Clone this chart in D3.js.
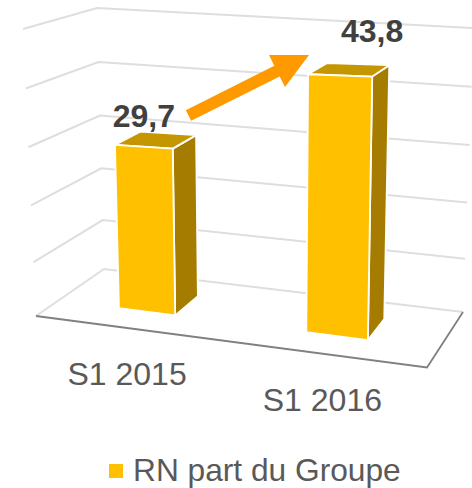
<!DOCTYPE html>
<html><head><meta charset="utf-8">
<script src="https://cdn.jsdelivr.net/npm/d3@7/dist/d3.min.js"></script>
<style>html,body{margin:0;padding:0;background:#fff}svg{display:block}</style>
</head><body><svg id="c" width="472" height="488"></svg>
<script>
const categories = ["S1 2015", "S1 2016"];
const values = [29.7, 43.8];
const valueLabels = ["29,7", "43,8"];
const ticks = [0, 10, 20, 30, 40, 50];
const seriesName = "RN part du Groupe";

const svg = d3.select("#c");
const font = "'Liberation Sans', Arial, sans-serif";

// Layout: projected box corners of the 3D chart
const floorFL = [36, 316], floorFR = [427, 367.5], floorBR = [463, 312], floorBL = [104, 269];
const topFL = [23, 29], topBL = [97, 8], topBR = [474, 28];
const labelNudge = [[0, -19.5], [32, -33]];

const mix = (a, b, t) => [a[0] + (b[0] - a[0]) * t, a[1] + (b[1] - a[1]) * t];
const floor = (u, w) => mix(mix(floorFL, floorFR, u), mix(floorBL, floorBR, u), w);

// Wall height (slight perspective growth)
const wallT = d3.scalePow().exponent(1.04).domain([0, 50]).range([0, 1]);

// Bar scales
const uScale = d3.scaleBand().domain(categories).range([-0.018, 0.984]).paddingInner(0.69).paddingOuter(0.345);
const warp = u => 0.016 + 0.91 * u + 0.09 * u * u; // perspective along the category axis
const depth = d3.scaleLinear().domain([0, 1]).range([0.33, 0.72]);
const lean = d3.scaleLinear().domain([119, 384]).range([-0.135, 0.114]);
const ppuX = d3.scaleLinear().domain([0, 1000]).range([0, 0.67]);
const ppuY = d3.scaleLinear().domain([0, 1000]).range([2.03, 13.03]);
const lift = (p, v) => [p[0] + v * lean(p[0]), p[1] - v * (ppuX(p[0]) + ppuY(p[1]))];

const line = d3.line();

// Gridlines on the walls
const gridG = svg.append("g");
ticks.forEach(t => {
  const k = wallT(t);
  gridG.append("path")
    .attr("d", line([mix(floorFL, topFL, k), mix(floorBL, topBL, k), mix(floorBR, topBR, k)]))
    .attr("fill", "none").attr("stroke", "#dedede").attr("stroke-width", 2);
});

// Floor front edges
svg.append("path").attr("d", line([floorFL, floorFR, floorBR]))
  .attr("fill", "none").attr("stroke", "#808080").attr("stroke-width", 1.8);

// Bars
const barG = svg.selectAll("g.bar").data(categories).join("g").attr("class", "bar");
barG.each(function (c, i) {
  const g = d3.select(this), v = values[i];
  const u0 = warp(uScale(c)), u1 = warp(uScale(c) + uScale.bandwidth());
  const fbl = floor(u0, depth(0)), fbr = floor(u1, depth(0));
  const bbr = floor(u1, depth(1)), bbl = floor(u0, depth(1));
  const ftl = lift(fbl, v), ftr = lift(fbr, v), btr = lift(bbr, v), btl = lift(bbl, v);
  const face = (pts, fill) => g.append("path").attr("d", line(pts) + "Z")
    .attr("fill", fill).attr("stroke", "#fff").attr("stroke-width", 1.8).attr("stroke-linejoin", "round");
  face([fbr, bbr, btr, ftr], "#a67c00");
  face([ftl, ftr, btr, btl], "#c49600");
  face([fbl, fbr, ftr, ftl], "#ffc000");
  const top = mix(ftl, ftr, 0.5);
  svg.append("text").attr("class", "val")
    .attr("x", top[0] + labelNudge[i][0]).attr("y", top[1] + labelNudge[i][1])
    .attr("text-anchor", "middle").attr("font-family", font).attr("font-weight", "bold")
    .attr("font-size", 32).attr("fill", "#404040").text(valueLabels[i]);
  const base = floor((u0 + u1) / 2, 0);
  svg.append("text").attr("x", base[0]).attr("y", base[1] + 57)
    .attr("text-anchor", "middle").attr("font-family", font)
    .attr("font-size", 32).attr("fill", "#595959").text(c);
});
svg.selectAll("text.val").raise();

// Growth arrow
const tail = [188.5, 115.5], tip = [309, 55];
const len = Math.hypot(tip[0] - tail[0], tip[1] - tail[1]);
const ux = (tip[0] - tail[0]) / len, uy = (tip[1] - tail[1]) / len;
const nx = -uy, ny = ux, headLen = 35.8, headHalf = 17.9, shaftHalf = 6;
const hb = [tip[0] - ux * headLen, tip[1] - uy * headLen];
const off = (p, s) => [p[0] + nx * s, p[1] + ny * s];
svg.append("path").attr("fill", "#ff9900").attr("d", line([
  off(tail, -shaftHalf), off(hb, -shaftHalf), off(hb, -headHalf), tip,
  off(hb, headHalf), off(hb, shaftHalf), off(tail, shaftHalf)]) + "Z");

// Legend
svg.append("rect").attr("x", 109).attr("y", 464).attr("width", 14).attr("height", 14).attr("fill", "#ffc000");
svg.append("text").attr("x", 133).attr("y", 481).attr("font-family", font)
  .attr("font-size", 31.7).attr("fill", "#595959").text(seriesName);
</script></body></html>
